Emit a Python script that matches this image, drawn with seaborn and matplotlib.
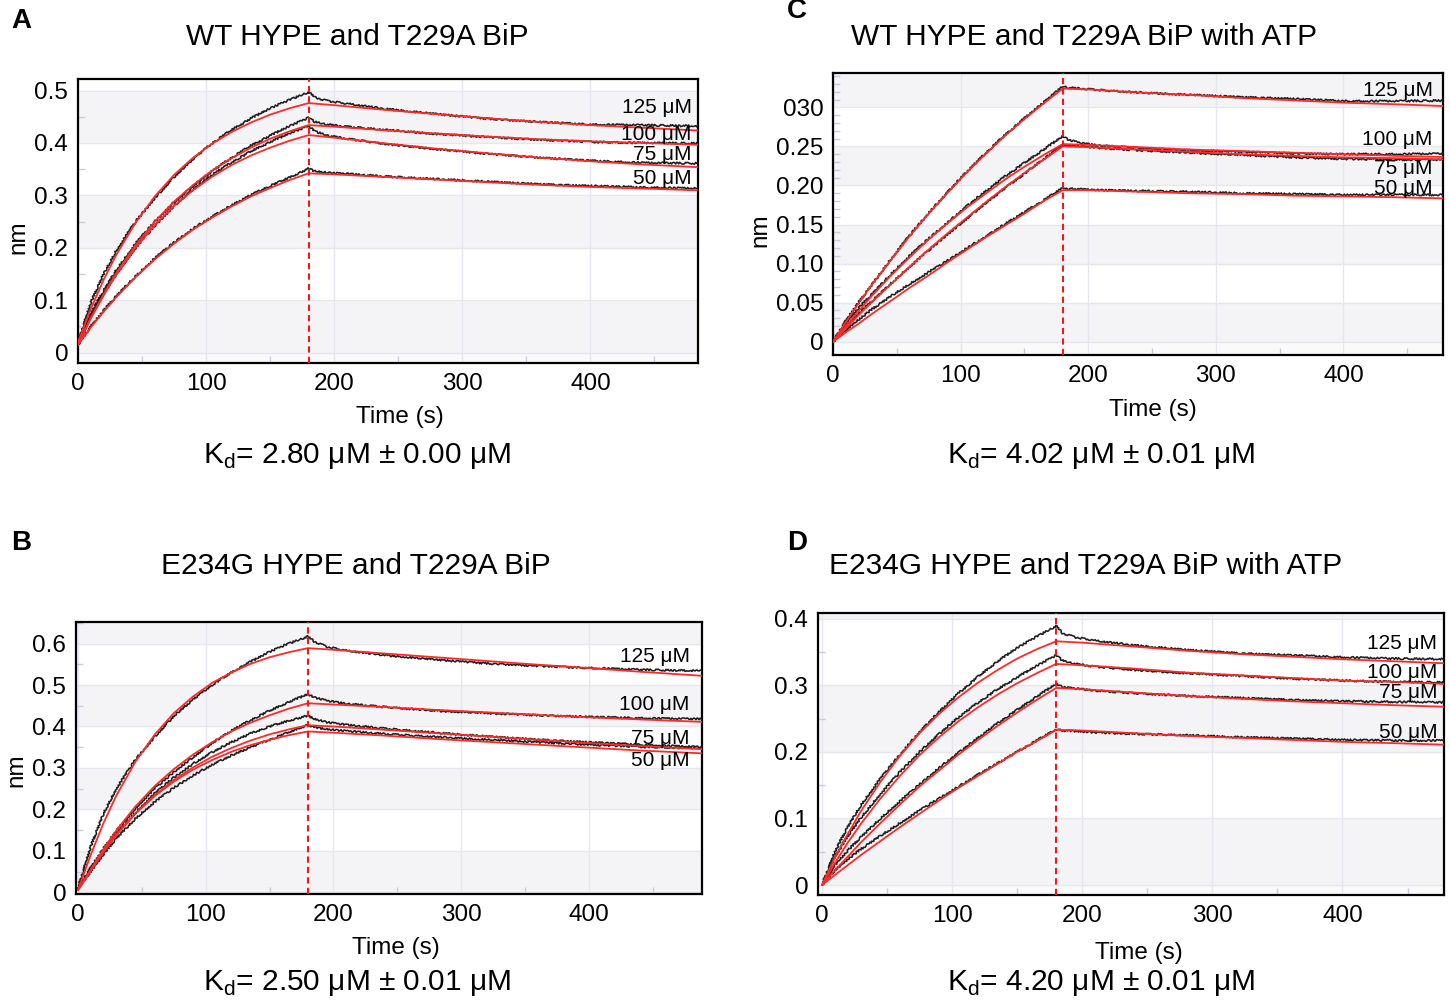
import numpy as np
import pandas as pd
import matplotlib
matplotlib.use("Agg")
import matplotlib.pyplot as plt
import seaborn as sns

# ---------------- data ----------------
CONCS = [125, 100, 75, 50]
CONC_LABELS = ["125 μM", "100 μM", "75 μM", "50 μM"]

T_FIT = [0, 10, 20, 30, 45, 60, 75, 90, 105, 120, 135, 150, 165, 180,
         200, 240, 280, 320, 360, 400, 440, 490]
T_DATA = [0, 10, 20, 30, 45, 60, 75, 90, 105, 120, 135, 150, 165, 180,
          185, 195, 210, 240, 280, 320, 360, 400, 440, 490]

# Panel A : WT HYPE and T229A BiP
A_FIT_125 = [0.020, 0.083, 0.139, 0.187, 0.248, 0.298, 0.339, 0.372, 0.399, 0.421, 0.439, 0.454, 0.466, 0.476,
             0.472, 0.463, 0.455, 0.447, 0.440, 0.434, 0.429, 0.423]
A_FIT_100 = [0.015, 0.066, 0.111, 0.152, 0.205, 0.250, 0.288, 0.320, 0.348, 0.371, 0.391, 0.408, 0.422, 0.434,
             0.431, 0.424, 0.418, 0.412, 0.407, 0.403, 0.400, 0.396]
A_FIT_75 = [0.015, 0.065, 0.109, 0.149, 0.200, 0.243, 0.280, 0.310, 0.336, 0.358, 0.376, 0.391, 0.404, 0.415,
            0.410, 0.399, 0.389, 0.380, 0.372, 0.365, 0.359, 0.353]
A_FIT_50 = [0.015, 0.048, 0.078, 0.106, 0.144, 0.178, 0.208, 0.235, 0.258, 0.279, 0.298, 0.314, 0.329, 0.342,
            0.340, 0.335, 0.330, 0.325, 0.320, 0.316, 0.313, 0.309]
A_DATA_125 = [0.020, 0.095, 0.150, 0.195, 0.250, 0.295, 0.335, 0.370, 0.400, 0.425, 0.447, 0.466, 0.482, 0.497,
              0.487, 0.480, 0.475, 0.465, 0.455, 0.446, 0.440, 0.435, 0.434, 0.432]
A_DATA_100 = [0.015, 0.075, 0.118, 0.158, 0.208, 0.250, 0.287, 0.318, 0.347, 0.372, 0.395, 0.414, 0.432, 0.448,
              0.440, 0.435, 0.431, 0.425, 0.417, 0.411, 0.406, 0.402, 0.400, 0.399]
A_DATA_75 = [0.015, 0.070, 0.112, 0.150, 0.200, 0.242, 0.280, 0.312, 0.340, 0.363, 0.384, 0.402, 0.418, 0.432,
             0.422, 0.414, 0.408, 0.398, 0.388, 0.379, 0.372, 0.366, 0.362, 0.361]
A_DATA_50 = [0.015, 0.050, 0.080, 0.108, 0.146, 0.180, 0.210, 0.237, 0.260, 0.281, 0.301, 0.318, 0.334, 0.351,
             0.346, 0.343, 0.341, 0.336, 0.331, 0.326, 0.321, 0.318, 0.315, 0.313]

# Panel B : E234G HYPE and T229A BiP
B_FIT_125 = [0.005, 0.090, 0.167, 0.233, 0.315, 0.380, 0.432, 0.472, 0.505, 0.530, 0.551, 0.567, 0.579, 0.589,
             0.585, 0.576, 0.567, 0.558, 0.549, 0.541, 0.532, 0.522]
B_FIT_100 = [0.005, 0.055, 0.104, 0.149, 0.207, 0.256, 0.297, 0.332, 0.362, 0.388, 0.409, 0.427, 0.443, 0.456,
             0.453, 0.447, 0.440, 0.434, 0.428, 0.422, 0.417, 0.411]
B_FIT_75 = [0.005, 0.052, 0.097, 0.138, 0.190, 0.234, 0.271, 0.301, 0.327, 0.348, 0.366, 0.381, 0.393, 0.403,
            0.400, 0.392, 0.384, 0.376, 0.368, 0.360, 0.353, 0.345]
B_FIT_50 = [0.005, 0.052, 0.098, 0.139, 0.190, 0.232, 0.267, 0.296, 0.319, 0.339, 0.355, 0.368, 0.379, 0.388,
            0.385, 0.378, 0.370, 0.363, 0.356, 0.349, 0.342, 0.335]
B_DATA_125 = [0.010, 0.110, 0.190, 0.250, 0.320, 0.375, 0.425, 0.465, 0.500, 0.530, 0.556, 0.580, 0.600, 0.617,
              0.605, 0.592, 0.583, 0.572, 0.561, 0.552, 0.546, 0.541, 0.537, 0.534]
B_DATA_100 = [0.010, 0.060, 0.105, 0.148, 0.203, 0.250, 0.290, 0.326, 0.360, 0.390, 0.415, 0.438, 0.459, 0.478,
              0.470, 0.462, 0.455, 0.447, 0.438, 0.432, 0.427, 0.423, 0.420, 0.418]
B_DATA_75 = [0.010, 0.055, 0.100, 0.140, 0.193, 0.238, 0.277, 0.310, 0.338, 0.362, 0.383, 0.400, 0.414, 0.426,
             0.418, 0.410, 0.404, 0.395, 0.385, 0.376, 0.368, 0.362, 0.356, 0.350]
B_DATA_50 = [0.010, 0.050, 0.092, 0.130, 0.178, 0.218, 0.252, 0.282, 0.308, 0.330, 0.350, 0.368, 0.386, 0.404,
             0.398, 0.393, 0.389, 0.382, 0.375, 0.368, 0.362, 0.356, 0.351, 0.347]

# Panel C : WT HYPE and T229A BiP with ATP
C_FIT_125 = [0.000, 0.025, 0.049, 0.072, 0.104, 0.135, 0.164, 0.191, 0.217, 0.241, 0.264, 0.285, 0.305, 0.324,
             0.323, 0.319, 0.316, 0.312, 0.309, 0.306, 0.304, 0.301]
C_FIT_100 = [0.000, 0.020, 0.039, 0.058, 0.084, 0.108, 0.131, 0.152, 0.172, 0.190, 0.208, 0.224, 0.239, 0.253,
             0.252, 0.249, 0.246, 0.244, 0.242, 0.240, 0.238, 0.236]
C_FIT_75 = [0.000, 0.017, 0.034, 0.050, 0.073, 0.096, 0.118, 0.139, 0.159, 0.179, 0.198, 0.216, 0.233, 0.250,
            0.249, 0.246, 0.243, 0.240, 0.238, 0.236, 0.235, 0.233]
C_FIT_50 = [0.000, 0.012, 0.023, 0.035, 0.052, 0.069, 0.085, 0.102, 0.118, 0.134, 0.149, 0.164, 0.180, 0.194,
            0.194, 0.192, 0.190, 0.189, 0.187, 0.186, 0.185, 0.183]
C_DATA_125 = [0.000, 0.027, 0.050, 0.072, 0.105, 0.136, 0.165, 0.192, 0.218, 0.242, 0.265, 0.286, 0.306, 0.327,
              0.325, 0.324, 0.322, 0.319, 0.316, 0.313, 0.311, 0.308, 0.308, 0.309]
C_DATA_100 = [0.000, 0.024, 0.043, 0.060, 0.086, 0.110, 0.132, 0.153, 0.174, 0.193, 0.212, 0.229, 0.246, 0.263,
              0.258, 0.254, 0.251, 0.248, 0.245, 0.243, 0.241, 0.240, 0.240, 0.241]
C_DATA_75 = [0.000, 0.020, 0.036, 0.051, 0.074, 0.096, 0.117, 0.138, 0.158, 0.178, 0.197, 0.215, 0.234, 0.252,
             0.251, 0.250, 0.248, 0.245, 0.242, 0.239, 0.236, 0.234, 0.233, 0.233]
C_DATA_50 = [0.000, 0.015, 0.028, 0.041, 0.058, 0.074, 0.089, 0.104, 0.120, 0.135, 0.151, 0.166, 0.181, 0.197,
             0.196, 0.195, 0.194, 0.193, 0.192, 0.190, 0.189, 0.188, 0.188, 0.188]

# Panel D : E234G HYPE and T229A BiP with ATP
D_FIT_125 = [0.000, 0.041, 0.077, 0.111, 0.155, 0.194, 0.228, 0.257, 0.282, 0.304, 0.323, 0.340, 0.354, 0.366,
             0.364, 0.358, 0.352, 0.347, 0.343, 0.339, 0.336, 0.332]
D_FIT_100 = [0.000, 0.033, 0.064, 0.092, 0.130, 0.164, 0.195, 0.222, 0.246, 0.267, 0.286, 0.303, 0.318, 0.332,
             0.330, 0.325, 0.319, 0.315, 0.311, 0.307, 0.305, 0.301]
D_FIT_75 = [0.000, 0.022, 0.043, 0.064, 0.093, 0.121, 0.148, 0.172, 0.196, 0.218, 0.239, 0.259, 0.278, 0.296,
            0.294, 0.289, 0.284, 0.280, 0.276, 0.273, 0.270, 0.267]
D_FIT_50 = [0.000, 0.015, 0.030, 0.045, 0.066, 0.087, 0.107, 0.127, 0.146, 0.164, 0.182, 0.200, 0.216, 0.233,
            0.232, 0.228, 0.224, 0.221, 0.218, 0.215, 0.213, 0.210]
D_DATA_125 = [0.000, 0.050, 0.088, 0.120, 0.160, 0.196, 0.230, 0.260, 0.288, 0.313, 0.336, 0.356, 0.373, 0.389,
              0.378, 0.372, 0.367, 0.360, 0.353, 0.348, 0.345, 0.342, 0.340, 0.339]
D_DATA_100 = [0.000, 0.042, 0.074, 0.101, 0.137, 0.170, 0.200, 0.227, 0.252, 0.274, 0.294, 0.312, 0.329, 0.345,
              0.337, 0.332, 0.328, 0.323, 0.318, 0.314, 0.310, 0.307, 0.305, 0.304]
D_DATA_75 = [0.000, 0.030, 0.052, 0.072, 0.100, 0.126, 0.151, 0.176, 0.199, 0.221, 0.243, 0.263, 0.283, 0.302,
             0.297, 0.295, 0.292, 0.288, 0.284, 0.281, 0.278, 0.276, 0.275, 0.274]
D_DATA_50 = [0.000, 0.022, 0.039, 0.054, 0.074, 0.093, 0.112, 0.130, 0.148, 0.166, 0.183, 0.200, 0.217, 0.234,
             0.232, 0.231, 0.229, 0.227, 0.225, 0.222, 0.220, 0.218, 0.217, 0.217]

TITLES = ["WT HYPE and T229A BiP", "E234G HYPE and T229A BiP",
          "WT HYPE and T229A BiP with ATP", "E234G HYPE and T229A BiP with ATP"]
KD_TEXTS = ["K$_\\mathregular{d}$= 2.80 μM ± 0.00 μM", "K$_\\mathregular{d}$= 2.50 μM ± 0.01 μM",
            "K$_\\mathregular{d}$= 4.02 μM ± 0.01 μM", "K$_\\mathregular{d}$= 4.20 μM ± 0.01 μM"]
LETTERS = ["A", "B", "C", "D"]
X_TICKS = [0, 100, 200, 300, 400]
A_YTICKS = [0, 0.1, 0.2, 0.3, 0.4, 0.5]
A_YLABELS = ["0", "0.1", "0.2", "0.3", "0.4", "0.5"]
B_YTICKS = [0, 0.1, 0.2, 0.3, 0.4, 0.5, 0.6]
B_YLABELS = ["0", "0.1", "0.2", "0.3", "0.4", "0.5", "0.6"]
C_YTICKS = [0, 0.05, 0.10, 0.15, 0.20, 0.25, 0.30]
C_YLABELS = ["0", "0.05", "0.10", "0.15", "0.20", "0.25", "030"]
D_YTICKS = [0, 0.1, 0.2, 0.3, 0.4]
D_YLABELS = ["0", "0.1", "0.2", "0.3", "0.4"]
STEP_TIME = 180

# ---------------- style ----------------
sns.set_theme(style="white")
plt.rcParams["font.family"] = ["Liberation Sans", "DejaVu Sans"]
plt.rcParams["text.color"] = "black"
plt.rcParams["axes.labelcolor"] = "black"
plt.rcParams["xtick.color"] = "black"
plt.rcParams["ytick.color"] = "black"

W, H = 1450, 1002
fig = plt.figure(figsize=(W / 100, H / 100), dpi=100)

RED = "#ff2a2a"
BLACK = "#1e1e1e"
BAND = "#f4f4f6"
GRID = "#e6e6ee"


def frac_rect(l, t, r, b):
    return [l / W, 1 - b / H, (r - l) / W, (b - t) / H]


panels = [
    dict(fits=[A_FIT_125, A_FIT_100, A_FIT_75, A_FIT_50],
         data=[A_DATA_125, A_DATA_100, A_DATA_75, A_DATA_50],
         rect=frac_rect(78, 79, 698, 363), xlim=(0, 484), ylim=(-0.020, 0.522),
         yt=A_YTICKS, yl=A_YLABELS, band=0.1, minor=0.05,
         lab_x=479, lab_y=[0.467, 0.417, 0.377, 0.332],
         title=(357, 37), letter=(11, 21), xlab=(400, 417), ylab=(18, 237),
         kd=(357, 456)),
    dict(fits=[B_FIT_125, B_FIT_100, B_FIT_75, B_FIT_50],
         data=[B_DATA_125, B_DATA_100, B_DATA_75, B_DATA_50],
         rect=frac_rect(76, 622, 702, 894), xlim=(-1.5, 488.5), ylim=(-0.004, 0.652),
         yt=B_YTICKS, yl=B_YLABELS, band=0.1, minor=0.05,
         lab_x=479, lab_y=[0.569, 0.452, 0.370, 0.318],
         title=(356, 566), letter=(11, 543), xlab=(396, 948), ylab=(16, 770),
         kd=(357, 983)),
    dict(fits=[C_FIT_125, C_FIT_100, C_FIT_75, C_FIT_50],
         data=[C_DATA_125, C_DATA_100, C_DATA_75, C_DATA_50],
         rect=frac_rect(833, 73, 1443, 355), xlim=(1.5, 478), ylim=(-0.017, 0.344),
         yt=C_YTICKS, yl=C_YLABELS, band=0.05, minor=0.01,
         lab_x=470, lab_y=[0.322, 0.259, 0.222, 0.196],
         title=(1084, 37), letter=(787, 11), xlab=(1153, 410), ylab=(760, 230),
         kd=(1101, 456)),
    dict(fits=[D_FIT_125, D_FIT_100, D_FIT_75, D_FIT_50],
         data=[D_DATA_125, D_DATA_100, D_DATA_75, D_DATA_50],
         rect=frac_rect(818, 613, 1444, 895), xlim=(-3, 478), ylim=(-0.015, 0.4085),
         yt=D_YTICKS, yl=D_YLABELS, band=0.1, minor=0.05,
         lab_x=473, lab_y=[0.3625, 0.319, 0.289, 0.229],
         title=(1086, 566), letter=(787, 543), xlab=(1139, 953), ylab=None,
         kd=(1101, 983)),
]

for i, p in enumerate(panels):
    ax = fig.add_axes(p["rect"])
    ax.set_facecolor("white")
    y0, y1 = p["ylim"]
    # alternating bands
    k = 0
    lo = 0.0
    while lo < y1:
        if k % 2 == 0:
            ax.axhspan(lo, lo + p["band"], color=BAND, zorder=0, lw=0)
        lo += p["band"]
        k += 1
    ax.axhspan(y0, 0, color="#fafafb", zorder=0, lw=0)

    fit_df = pd.DataFrame({
        "time": np.tile(T_FIT, 4),
        "value": np.concatenate(p["fits"]),
        "conc": np.repeat(CONCS, len(T_FIT)),
    })
    data_df = pd.DataFrame({
        "time": np.tile(T_DATA, 4),
        "value": np.concatenate(p["data"]),
        "conc": np.repeat(CONCS, len(T_DATA)),
    })

    n0 = len(ax.lines)
    sns.lineplot(data=data_df, x="time", y="value", units="conc", estimator=None,
                 sort=False, color=BLACK, lw=1.15, ax=ax, legend=False, zorder=3)
    for ln in ax.lines[n0:]:
        ln.set_sketch_params(scale=0.9, length=3.0, randomness=3.0)
    sns.lineplot(data=fit_df, x="time", y="value", units="conc", estimator=None,
                 sort=False, color=RED, lw=1.3, ax=ax, legend=False, zorder=4)

    ax.axvline(STEP_TIME, color="#f01818", lw=1.5, ls=(0, (3, 2)), zorder=5)

    ax.set_xlim(*p["xlim"])
    ax.set_ylim(*p["ylim"])
    ax.set_xticks(X_TICKS)
    ax.set_xticklabels([str(v) for v in X_TICKS])
    ax.set_yticks(p["yt"])
    ax.set_yticklabels(p["yl"])
    ax.set_xticks(np.arange(50, 480, 100), minor=True)
    ax.set_yticks(np.arange(p["minor"], y1, p["minor"]), minor=True)
    ax.tick_params(which="major", length=0, labelsize=17.5, colors="black", pad=7)
    ax.tick_params(which="minor", length=5, direction="in", color="#c9c9e6", width=1,
                   left=True, bottom=True, labelleft=False, labelbottom=False)
    ax.grid(True, which="major", color=GRID, lw=1.0, zorder=1)
    ax.set_axisbelow(True)
    ax.set_xlabel("")
    ax.set_ylabel("")
    for s in ax.spines.values():
        s.set_color("black")
        s.set_linewidth(1.6)
        s.set_visible(True)

    for lab, yy in zip(CONC_LABELS, p["lab_y"]):
        ax.text(p["lab_x"], yy, lab, ha="right", va="center", fontsize=15,
                color="black", zorder=6)

    fig.text(p["title"][0] / W, 1 - p["title"][1] / H, TITLES[i],
             ha="center", va="center", fontsize=21.5, color="black")
    fig.text(p["letter"][0] / W, 1 - p["letter"][1] / H, LETTERS[i],
             ha="left", va="center", fontsize=20, fontweight="bold", color="black")
    fig.text(p["xlab"][0] / W, 1 - p["xlab"][1] / H, "Time (s)",
             ha="center", va="center", fontsize=17.5, color="black")
    if p["ylab"] is not None:
        fig.text(p["ylab"][0] / W, 1 - p["ylab"][1] / H, "nm",
                 ha="center", va="center", fontsize=17.5, rotation=90, color="black")
    fig.text(p["kd"][0] / W, 1 - p["kd"][1] / H, KD_TEXTS[i],
             ha="center", va="center", fontsize=21.5, color="black")

fig.savefig("out.png", dpi=100, facecolor="white")
